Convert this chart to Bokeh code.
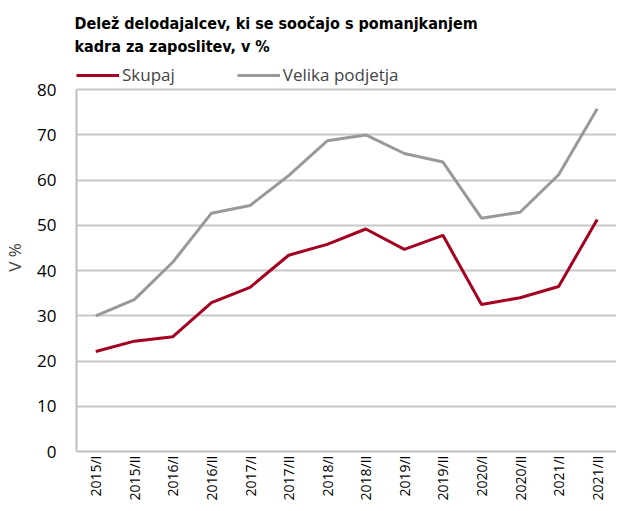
import math
from bokeh.plotting import figure
from bokeh.models import (Range1d, FactorRange, Legend, LegendItem, Title,
                          FixedTicker, ColumnDataSource)
from bokeh.embed import file_html
from bokeh.resources import INLINE

periods = ["2015/I", "2015/II", "2016/I", "2016/II", "2017/I", "2017/II", "2018/I",
           "2018/II", "2019/I", "2019/II", "2020/I", "2020/II", "2021/I", "2021/II"]
skupaj = [22.1, 24.4, 25.4, 32.9, 36.3, 43.4, 45.8, 49.2, 44.7, 47.8, 32.5, 34.0, 36.5, 51.3]
velika = [30.0, 33.6, 41.9, 52.7, 54.4, 61.0, 68.7, 70.0, 65.9, 64.0, 51.6, 52.9, 61.2, 75.8]
y_ticks = [0, 10, 20, 30, 40, 50, 60, 70, 80]
title_lines = ["Delež delodajalcev, ki se soočajo s pomanjkanjem", "kadra za zaposlitev, v %"]

RED = "#A50021"
GRAY = "#999999"
GRID = "#C8C8C8"
AXIS = "#BFBFBF"
FONT = "Open Sans"
TFONT = "DejaVu Sans Condensed, Roboto"

src = ColumnDataSource(dict(x=periods, skupaj=skupaj, velika=velika))

# the frame reaches a little above 80 to hold the legend row
p = figure(width=616, height=503, x_range=FactorRange(*periods), y_range=Range1d(0, 85.8),
           output_backend="svg", toolbar_location=None,
           min_border_left=66, min_border_right=0, min_border_bottom=0, min_border_top=63)
p.outline_line_color = None

r1 = p.line("x", "skupaj", source=src, line_color=RED, line_width=3)
r2 = p.line("x", "velika", source=src, line_color=GRAY, line_width=3)

# y axis
p.yaxis.ticker = FixedTicker(ticks=y_ticks)
p.yaxis.bounds = (y_ticks[0], y_ticks[-1])
p.yaxis.axis_label = "V %"
p.yaxis.axis_label_text_font = FONT
p.yaxis.axis_label_text_font_style = "normal"
p.yaxis.axis_label_text_font_size = "17px"
p.yaxis.axis_label_standoff = 8
p.yaxis.major_label_text_font = FONT
p.yaxis.major_label_text_font_size = "17px"
p.yaxis.major_label_text_color = "#000000"
p.yaxis.major_label_standoff = 14
p.yaxis.major_tick_line_color = None
p.yaxis.minor_tick_line_color = None
p.yaxis.axis_line_color = AXIS
p.yaxis.axis_line_width = 2

# x axis
p.xaxis.major_label_orientation = math.pi / 2
p.xaxis.major_label_text_font = FONT
p.xaxis.major_label_text_font_size = "14px"
p.xaxis.major_label_text_color = "#000000"
p.xaxis.major_label_standoff = 4
p.xaxis.major_tick_out = 0
p.xaxis.major_tick_in = 0
p.xaxis.major_tick_line_color = None
p.xaxis.axis_line_color = AXIS
p.xaxis.axis_line_width = 2

p.xgrid.visible = False
p.ygrid.grid_line_color = GRID
p.ygrid.grid_line_width = 2

legend = Legend(items=[LegendItem(label="Skupaj", renderers=[r1]),
                       LegendItem(label="Velika podjetja", renderers=[r2])],
                orientation="horizontal", location="top_left",
                glyph_width=43, glyph_height=18, label_standoff=3, spacing=62,
                padding=0, margin=0, border_line_color=None, background_fill_alpha=0,
                label_text_font=FONT, label_text_font_size="17px", label_height=18)
p.add_layout(legend, "center")

title = Title(text="\n".join(title_lines), text_font=TFONT, text_font_size="16px",
              text_font_style="bold", text_color="#000000", text_line_height=1.2,
              offset=-2, standoff=15)
p.add_layout(title, "above")

open("out.html", "w").write(file_html(p, INLINE))
